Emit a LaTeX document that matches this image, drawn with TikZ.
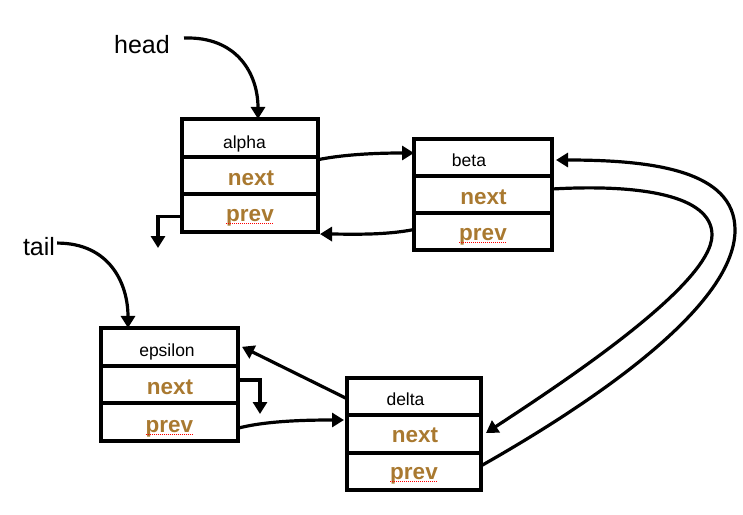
\documentclass[tikz,border=0pt]{standalone}
\usepackage{fontspec}
\setmainfont{Liberation Sans}
\usetikzlibrary{arrows.meta}
\definecolor{fieldbrown}{RGB}{169,121,48}
\begin{document}
\begin{tikzpicture}[x=1pt,y=-1pt,
  cell/.style 2 args={draw, line width=4pt, minimum width=#1, minimum height=#2, inner sep=0pt, outer sep=0pt},
  ttl/.style={anchor=base, inner sep=0pt, font=\fontsize{17.5}{20}\selectfont},
  fld/.style={anchor=base, inner sep=0pt, text=fieldbrown, font=\fontsize{22.5}{26}\selectfont\bfseries},
  lbl/.style={anchor=base, inner sep=0pt, font=\fontsize{25}{28}\selectfont},
  spell/.style={red, line width=1pt, dash pattern=on 1pt off 1pt},
  conn/.style={line width=3.2pt, -{Triangle[length=12pt,width=14pt]}}]
\useasboundingbox (0,0) rectangle (743,514);
% alpha
\node[cell={136pt}{37.7pt}] (aT) at (250,137.8) {};
\node[cell={136pt}{37.7pt}] (aN) at (250,175.5) {};
\node[cell={136pt}{37.7pt}] (aP) at (250,213.2) {};
\node[ttl] (aTt) at (244.5,148) {alpha};
\node[fld] (aNt) at (251,185) {next};
\node[fld] (aPt) at (250,221) {prev};
% beta
\node[cell={138pt}{37pt}] (bT) at (483,157.5) {};
\node[cell={138pt}{37pt}] (bN) at (483,194.5) {};
\node[cell={138pt}{37pt}] (bP) at (483,231.5) {};
\node[ttl] (bTt) at (469,166) {beta};
\node[fld] (bNt) at (483.5,204) {next};
\node[fld] (bPt) at (483,240) {prev};
% epsilon
\node[cell={137pt}{37.7pt}] (eT) at (169.5,346.8) {};
\node[cell={137pt}{37.7pt}] (eN) at (169.5,384.5) {};
\node[cell={137pt}{37.7pt}] (eP) at (169.5,422.2) {};
\node[ttl] (eTt) at (167,356) {epsilon};
\node[fld] (eNt) at (170,394) {next};
\node[fld] (ePt) at (169.5,432) {prev};
% delta
\node[cell={134pt}{37.3pt}] (dT) at (414,396.7) {};
\node[cell={134pt}{37.3pt}] (dN) at (414,434) {};
\node[cell={134pt}{37.3pt}] (dP) at (414,471.3) {};
\node[ttl] (dTt) at (405.5,405) {delta};
\node[fld] (dNt) at (415,442) {next};
\node[fld] (dPt) at (414,479) {prev};
% spell-check underlines
\foreach \n in {aPt,bPt,ePt,dPt}
  \draw[spell] ([yshift=-2pt]\n.base west) -- ([yshift=-2pt]\n.base east);
% labels
\node[lbl] (head) at (142,53) {head};
\node[lbl] (tail) at (39,255) {tail};
\coordinate (aPend) at (158,248);
\coordinate (eNend) at (260,414);
% connectors
\draw[conn] ([xshift=14pt,yshift=6pt]head.east) .. controls +(53,-2) and +(0,-45) .. ([xshift=8pt]aT.north);
\draw[conn] ([xshift=2pt,yshift=3pt]tail.east) .. controls +(52,0) and +(0,-45) .. ([xshift=-41.5pt]eT.north);
\draw[conn] ([yshift=-3pt]aN.north east) .. controls +(30,-6) and +(-30,0) .. ([yshift=4.5pt]bT.west);
\draw[conn] ([yshift=2pt]bP.west) .. controls +(-30,6) and +(30,0) .. ([xshift=2pt,yshift=-2pt]aP.south east);
\draw[conn] ([yshift=-3pt]aP.west) -| (aPend);
\draw[conn] ([yshift=5.5pt]bN.east) .. controls +(87,-5) and +(0,-40) .. (712,235)
   .. controls +(0,50) and +(73,-48) .. ([xshift=5pt,yshift=1pt]dN.east);
\draw[conn] ([xshift=1pt,yshift=6pt]dP.east) .. controls +(97,-55) and +(0,80) .. (735,230)
   .. controls +(0,-60) and +(95,0) .. ([xshift=4pt,yshift=-2.5pt]bT.east);
\draw[conn] ([yshift=-2pt]dT.west) -- ([xshift=4pt]eT.east);
\draw[conn] ([yshift=4.5pt]eN.east) -| (eNend);
\draw[conn] ([yshift=-6pt]eP.east) .. controls +(30,-8) and +(-30,0) .. ([xshift=-3pt,yshift=14pt]dN.west);
\end{tikzpicture}
\end{document}
